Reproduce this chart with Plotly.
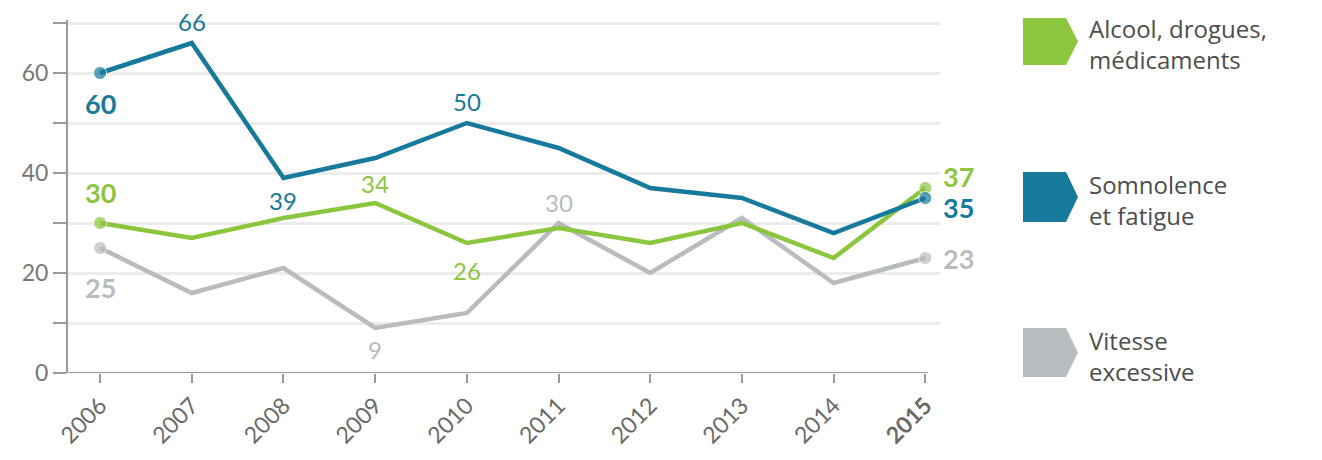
import plotly.graph_objects as go

years = [2006, 2007, 2008, 2009, 2010, 2011, 2012, 2013, 2014, 2015]
alcool = [30, 27, 31, 34, 26, 29, 26, 30, 23, 37]
somnolence = [60, 66, 39, 43, 50, 45, 37, 35, 28, 35]
vitesse = [25, 16, 21, 9, 12, 30, 20, 31, 18, 23]

series_names = ["Alcool, drogues,<br>médicaments", "Somnolence<br>et fatigue", "Vitesse<br>excessive"]
y_tick_vals = [0, 10, 20, 30, 40, 50, 60, 70]
y_tick_text = ["0", "", "20", "", "40", "", "60", ""]

GREEN = "#8cc63f"
BLUE = "#17799c"
GREY = "#b9bcbe"
FONT = "Lato"

fig = go.Figure()
marker_sizes = [13] + [0] * (len(years) - 2) + [13]
for vals, col in [(vitesse, GREY), (alcool, GREEN), (somnolence, BLUE)]:
    fig.add_trace(go.Scatter(
        x=years, y=vals, mode="lines+markers",
        line=dict(color=col, width=4.5),
        marker=dict(size=marker_sizes, color=col),
        hoverinfo="x+y", showlegend=False,
    ))

# value labels: (series, index, colour, bold, yshift, xshift, xanchor)
labels = [
    (somnolence, 0, BLUE, True, -30, 0, "center"),
    (somnolence, 1, BLUE, False, 22, 0, "center"),
    (somnolence, 2, BLUE, False, -22, 0, "center"),
    (somnolence, 4, BLUE, False, 22, 0, "center"),
    (somnolence, 9, BLUE, True, -9, 17, "left"),
    (alcool, 0, GREEN, True, 31, 0, "center"),
    (alcool, 3, GREEN, False, 20, 0, "center"),
    (alcool, 4, GREEN, False, -27, 0, "center"),
    (alcool, 9, GREEN, True, 12, 17, "left"),
    (vitesse, 0, GREY, True, -39, 0, "center"),
    (vitesse, 5, GREY, False, 21, 0, "center"),
    (vitesse, 3, GREY, False, -21, 0, "center"),
    (vitesse, 9, GREY, True, 0, 17, "left"),
]
for ser, i, col, bold, ys, xs, xa in labels:
    txt = f"<b>{ser[i]}</b>" if bold else f"{ser[i]}"
    fig.add_annotation(
        x=years[i], y=ser[i], text=txt, showarrow=False,
        yshift=ys, xshift=xs, xanchor=xa, yanchor="middle", borderpad=0,
        font=dict(family=FONT, size=27 if bold else 24, color=col),
    )

# plot area in screen pixels (page has an 8px body margin)
PL, PR, PT, PB = 68, 940, 20, 373
W, H = PR - PL, PB - PT


def px(xp):
    return (xp - PL) / W


def py(yp):
    return (PB - yp) / H


legend_rows = [(GREEN, 18, 65), (BLUE, 172, 222), (GREY, 328, 377)]
for (col, top, bot), name in zip(legend_rows, series_names):
    x0, x1, x2 = 1023, 1066, 1078
    mid = (top + bot) / 2
    path = (f"M {px(x0)} {py(top)} L {px(x1)} {py(top)} L {px(x2)} {py(mid)} "
            f"L {px(x1)} {py(bot)} L {px(x0)} {py(bot)} Z")
    fig.add_shape(type="path", path=path, xref="paper", yref="paper",
                  fillcolor=col, line=dict(width=0))
    fig.add_annotation(
        x=px(1088), y=py(mid + 3), xref="paper", yref="paper", text=name,
        showarrow=False, xanchor="left", yanchor="middle", align="left",
        borderpad=0, font=dict(family="Open Sans", size=24, color="#4d4d4d"),
    )

tick_text = [str(y) for y in years[:-1]] + [f"<b>{years[-1]}</b>"]
fig.update_xaxes(
    range=[2005.65, 2015.16], tickvals=years, ticktext=tick_text,
    tickangle=-45, tickfont=dict(family=FONT, size=23, color="#6a6a6a"),
    showgrid=False, zeroline=False, showline=False,
    ticks="outside", ticklen=9, tickwidth=2, tickcolor="#9a9a9a",
)
fig.update_yaxes(
    range=[0, 70.6], tickvals=y_tick_vals, ticktext=y_tick_text,
    tickfont=dict(family=FONT, size=23, color="#777777"),
    showgrid=True, gridcolor="#ececec", gridwidth=2.5, zeroline=False,
    showline=True, linecolor="#9a9a9a", linewidth=2,
    ticks="outside", ticklen=13, tickwidth=2, tickcolor="#9a9a9a",
)
# x axis baseline extending past the y spine
fig.add_shape(type="line", xref="paper", yref="y", x0=px(55), x1=px(928), y0=0, y1=0,
              line=dict(color="#9a9a9a", width=2), layer="above")

FW, FH = 1314, 452
fig.update_layout(
    width=FW, height=FH,
    margin=dict(l=PL - 8, r=FW - (PR - 8), t=PT - 8, b=FH - (PB - 8)),
    plot_bgcolor="white", paper_bgcolor="white",
    font=dict(family=FONT),
)

fig.write_html("out.html")
